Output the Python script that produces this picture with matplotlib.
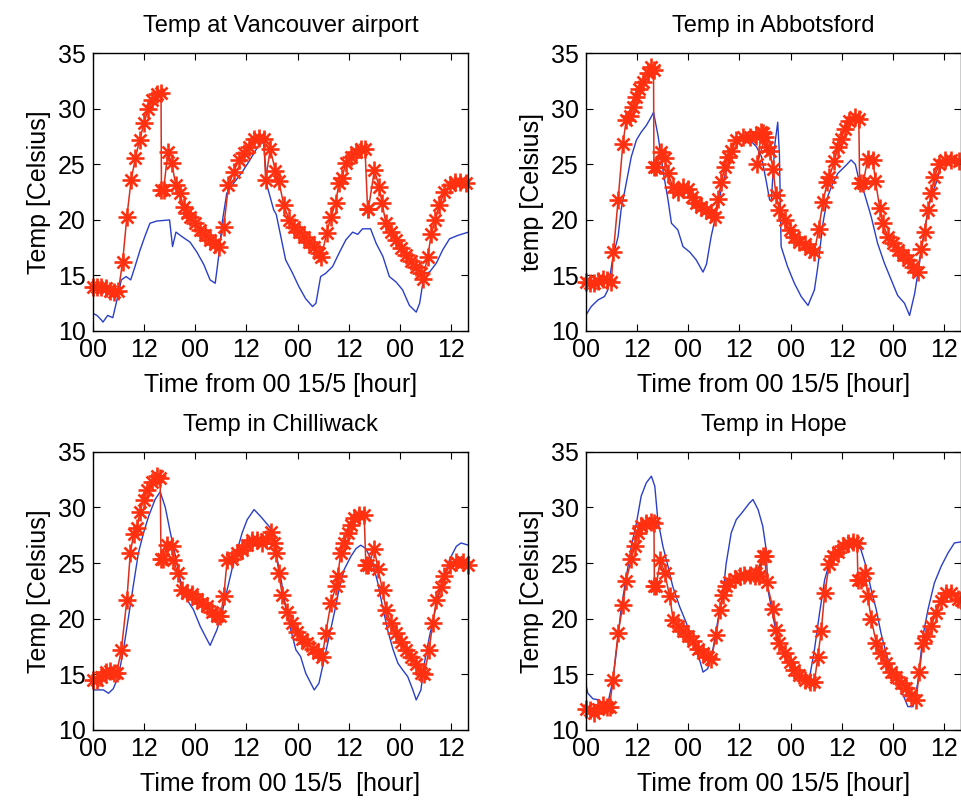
import matplotlib
matplotlib.use('Agg')
import matplotlib.pyplot as plt

plt.rcParams['font.family'] = ['Liberation Sans', 'DejaVu Sans']

# timmar fran 00 15/5, observerad (blå) och prognos (röd)
van_obs_h = [0, 1, 2, 2.4, 3.5, 4.7, 5.5, 6.7, 7.8, 8.9, 9.9, 11.1, 12.2, 13.4, 15, 18, 18.7, 19.5, 20.9, 22.8,
             24.4, 26, 27.5, 28.7, 29.5, 30.3, 31.4, 33, 35, 37, 39, 40, 40.9, 42.4, 43, 45.2, 46.7, 48.3, 49.9,
             51.5, 52.3, 53.4, 54.6, 56.2, 57.7, 59.3, 60.9, 62.1, 63.2, 65.1, 66.4, 68, 69.5, 71.1, 72.6, 74.2,
             75.8, 76.6, 77.7, 78.9, 80.5, 82, 83.6, 85.5, 88]
van_obs_t = [11.6, 11.4, 11.0, 10.8, 11.4, 11.2, 12.5, 14.6, 14.9, 14.6, 15.8, 17.3, 18.5, 19.7, 19.9, 20.0, 17.6,
             18.9, 18.5, 18.0, 17.1, 16.0, 14.6, 14.3, 16.7, 19.7, 22.4, 23.3, 24.3, 25.5, 26.8, 27.0, 23.0, 20.9,
             20.5, 16.4, 15.3, 14.0, 12.9, 12.2, 12.5, 14.9, 15.2, 15.8, 17.0, 18.2, 18.9, 18.7, 19.2, 19.2, 17.9,
             16.7, 14.9, 14.4, 13.7, 12.3, 11.7, 12.5, 15.2, 15.3, 16.1, 17.3, 18.3, 18.6, 18.9]
van_fc_h = [0, 1, 2, 3, 4, 5, 6, 7, 8, 9, 10, 11, 12, 13, 14, 15, 16, 16.1, 16.6, 17.6, 18.5, 19.5, 20.4, 21.3, 22,
            22.8, 24, 25.2, 26.4, 27.5, 28.7, 29.5, 30.7, 31.8, 33, 34.2, 35.4, 36.5, 37.7, 38.9, 40.1, 40.5, 41.6,
            42.8, 43.6, 44.8, 46, 47.1, 48.3, 49.5, 50.7, 51.8, 53, 53.6, 54.8, 55.8, 56.9, 57.7, 58.4, 59.3, 60.5,
            61.6, 62.8, 63.8, 64.4, 64.6, 66, 67.1, 67.8, 68.7, 69.9, 71.1, 72.3, 73.4, 74.6, 75.8, 77, 77.3, 78.5,
            79.3, 80.3, 81.2, 82.4, 83.6, 84.8, 86, 87.5]
van_fc_t = [14.0, 14.0, 14.0, 13.9, 13.6, 13.5, 13.6, 16.2, 20.3, 23.6, 25.6, 27.2, 28.7, 30.0, 30.8, 31.3, 31.4,
            22.7, 22.7, 26.1, 25.1, 23.1, 22.4, 21.2, 20.6, 20.3, 19.7, 19.1, 18.6, 18.2, 17.8, 17.6, 19.4, 23.1,
            24.3, 25.4, 26.0, 26.6, 27.3, 27.4, 27.3, 23.6, 26.4, 24.4, 23.5, 21.3, 20.0, 19.4, 18.9, 18.5, 18.0,
            17.6, 17.0, 16.7, 18.8, 20.3, 21.5, 23.3, 23.8, 25.1, 25.7, 26.1, 26.4, 26.4, 21.0, 21.0, 24.5, 23.0,
            21.5, 19.7, 18.9, 18.2, 17.5, 16.8, 16.3, 15.8, 15.2, 14.7, 16.7, 18.7, 20.0, 21.3, 22.5, 23.1, 23.4,
            23.4, 23.3]

abb_obs_h = [0, 1.3, 2.9, 4.4, 5.2, 6.4, 7.6, 8.3, 9.5, 10.7, 11.9, 13, 14.2, 15.4, 15.9, 17, 18.1, 19.3, 20.1,
             21.6, 22.8, 24.4, 25.9, 27.5, 28.3, 29.4, 30.6, 32.1, 33.7, 36.1, 37.7, 40, 41.2, 42.4, 43.1, 43.5,
             44.3, 45, 45.4, 45.8, 47.3, 48.9, 50.5, 52.1, 53.6, 54.4, 55.6, 56.7, 57.9, 59.1, 60.7, 62.2, 63.2,
             64.2, 65.3, 66.9, 68.4, 70, 71.6, 73.1, 74.7, 75.9, 77.1, 78.2, 79.4, 80.9, 82.1, 83.3, 84.9, 88]
abb_obs_t = [11.4, 12.2, 12.8, 13.1, 13.7, 16.7, 18.5, 20.9, 23.3, 25.7, 27.2, 27.9, 28.5, 29.3, 29.7, 27.5, 24.5,
             21.8, 19.7, 19.1, 17.6, 17.1, 16.4, 15.3, 16.0, 18.5, 20.6, 23.3, 25.4, 27.2, 27.5, 26.6, 25.7, 23.3,
             21.8, 21.7, 26.7, 28.8, 25.9, 17.6, 15.8, 14.3, 13.1, 12.3, 13.7, 15.8, 19.7, 22.1, 23.3, 24.2, 24.8,
             25.4, 25.0, 23.3, 22.4, 20.3, 17.9, 16.1, 14.6, 13.2, 12.5, 11.4, 13.4, 16.1, 19.1, 22.1, 23.3, 24.8,
             25.2, 25.2]
abb_fc_h = [0, 1, 2, 3, 4, 5, 6, 6.5, 7.6, 8.7, 9.5, 10.3, 11.1, 11.9, 12.6, 13.4, 14.6, 15.4, 15.9, 16.0, 16.5,
            17.7, 18.5, 19.3, 20.4, 21.6, 22.8, 24, 24.8, 25.9, 27.1, 28.2, 29.4, 30.2, 31, 31.8, 32.6, 33.3, 34.1,
            35.3, 36.8, 38.4, 40, 41.5, 42, 40.2, 41.2, 42.4, 43.1, 43.9, 44.6, 45.4, 46.6, 47.8, 48.9, 50.1, 51.3,
            52.5, 53.6, 54.6, 55.6, 56.6, 57.1, 58.3, 59.1, 59.9, 60.7, 61.8, 63, 64, 64.2, 65, 66.1, 67.3, 67.9,
            68.9, 69.6, 70.8, 72, 73.2, 74.3, 75.5, 76.7, 77.8, 78.6, 79.4, 80.2, 81, 81.7, 82.9, 84.1, 85.6, 87.4]
abb_fc_t = [14.4, 14.3, 14.3, 14.5, 14.7, 14.6, 14.4, 17.1, 21.8, 26.8, 29.0, 29.4, 30.2, 31.1, 31.8, 32.4, 33.2,
            33.8, 33.5, 24.8, 24.8, 26.1, 25.6, 24.2, 23.0, 22.5, 23.0, 22.8, 22.1, 21.5, 21.2, 20.9, 20.6, 20.3,
            21.9, 23.4, 24.8, 25.7, 26.2, 27.2, 27.5, 27.5, 27.6, 27.8, 27.5, 25.0, 27.9, 26.6, 26.2, 24.6, 22.2,
            20.9, 20.0, 19.1, 18.5, 18.0, 17.8, 17.4, 17.1, 19.2, 21.6, 23.4, 23.9, 25.3, 26.6, 27.3, 28.2, 28.9,
            29.3, 29.1, 23.3, 23.3, 25.5, 25.4, 23.5, 21.1, 19.7, 18.5, 17.9, 17.3, 16.8, 16.4, 15.8, 15.3, 17.4,
            18.9, 20.9, 22.4, 23.9, 25.0, 25.4, 25.4, 25.3]

chi_obs_h = [0, 2.5, 3.7, 4.8, 6, 7.2, 8.4, 9.6, 10.7, 11.9, 13.1, 14.6, 15.8, 17, 18.2, 19.4, 20.5, 22.1, 23.6,
             25.2, 26.4, 27.5, 29.1, 30.3, 31.5, 32.6, 33.9, 35, 36.2, 37.8, 39.3, 41.3, 42.5, 42.9, 44, 45.2, 46.4,
             47.6, 48.7, 49.9, 51.1, 51.9, 53, 54.2, 55.4, 56.6, 57.7, 58.9, 60.5, 61.7, 62.8, 64, 65.6, 66.8, 67.9,
             69.1, 70.3, 71.5, 72.6, 73.8, 75, 75.8, 76.9, 77.7, 78.9, 80.1, 81.2, 82.4, 83.6, 85.2, 86.3, 88]
chi_obs_t = [13.6, 13.6, 13.3, 13.7, 14.8, 17.2, 20.2, 23.2, 25.9, 27.7, 29.2, 30.7, 31.4, 30.0, 27.7, 25.6, 23.5,
             21.7, 20.8, 19.3, 18.4, 17.6, 19.0, 20.5, 22.6, 24.4, 26.2, 27.7, 28.9, 29.8, 29.2, 28.3, 27.7, 26.0,
             23.8, 21.1, 19.0, 17.2, 16.6, 15.1, 14.2, 13.6, 14.2, 16.3, 18.4, 20.5, 22.6, 24.4, 25.6, 26.3, 26.6,
             26.3, 25.0, 23.2, 21.1, 19.0, 17.3, 16.0, 15.4, 14.8, 13.6, 12.7, 13.6, 16.0, 18.4, 20.5, 22.3, 23.8,
             25.3, 26.5, 26.8, 26.6]
chi_fc_h = [0, 1, 2, 3, 4, 5, 5.6, 6.7, 8, 8.8, 9.6, 10.3, 11.1, 11.9, 12.7, 13.9, 15, 15.8, 16.0, 16.5, 17.5,
            18.5, 18.9, 19.9, 20.9, 22.1, 23.3, 24.4, 25.6, 26.8, 28, 29.1, 29.9, 30.7, 31.5, 32.6, 33.9, 35, 36.2,
            37.4, 38.5, 39.7, 40.5, 41.7, 42.5, 43, 43.6, 44.4, 45.6, 46.8, 47.9, 49.1, 50.3, 51.5, 52.7, 53.8,
            54.6, 55.8, 57, 57.4, 58.1, 58.9, 59.7, 60.5, 61.3, 62.5, 63.6, 64.0, 64.6, 66, 66.8, 67.9, 68.7, 69.9,
            71.1, 72.2, 73.4, 74.6, 75.8, 76.9, 77.7, 78.8, 79.7, 80.5, 81.7, 82.4, 83.6, 85.2, 86.7, 88]
chi_fc_t = [14.5, 14.5, 14.8, 15.2, 15.3, 15.1, 15.1, 17.2, 21.7, 25.9, 27.6, 28.1, 29.6, 30.7, 31.6, 32.3, 32.8,
            32.6, 25.4, 25.4, 26.6, 26.5, 25.3, 24.1, 22.6, 22.3, 22.2, 21.8, 21.4, 21.1, 20.6, 20.2, 20.2, 22.0,
            25.3, 25.4, 25.9, 26.2, 26.6, 27.1, 27.1, 26.8, 27.2, 27.8, 26.8, 25.9, 24.1, 22.1, 20.6, 19.6, 18.8,
            18.2, 17.8, 17.3, 16.9, 16.6, 18.7, 21.4, 22.9, 23.8, 25.9, 26.8, 27.7, 28.4, 29.0, 29.3, 29.3, 24.8,
            24.8, 26.3, 24.5, 22.6, 20.8, 19.6, 18.7, 17.9, 17.2, 16.6, 15.9, 15.1, 15.0, 17.2, 19.6, 21.7, 22.8,
            23.8, 24.8, 25.1, 25.1, 24.8]

hop_obs_h = [0, 0.5, 1.7, 3.2, 4.4, 5.2, 6.4, 7.6, 8.3, 9.5, 10.7, 11.9, 13, 14.2, 15.4, 16.2, 16.9, 18.1, 19.3,
             20.4, 22, 23.6, 25.1, 26.7, 27.5, 28.6, 29.8, 31, 32.2, 32.9, 34.1, 35.3, 36.8, 38.4, 39.2, 40.4, 41.5,
             42.3, 42.7, 43.9, 45, 46.2, 47.4, 48.9, 50.5, 52, 52.5, 53.6, 54.8, 56, 57.1, 58.3, 59.9, 61.4, 63,
             64.5, 65.7, 66.9, 68.1, 69.2, 70.4, 71.6, 72.7, 73.9, 75.5, 76.7, 77.8, 79, 80.2, 81.7, 83.3, 84.9,
             86.4, 88]
hop_obs_t = [14.2, 13.3, 12.8, 12.7, 12.1, 12.4, 14.5, 18.4, 20.9, 23.7, 26.5, 28.6, 31.0, 32.2, 32.8, 31.9, 28.9,
             26.5, 24.7, 22.9, 21.1, 19.6, 17.8, 16.3, 15.2, 15.5, 17.2, 19.9, 22.3, 24.9, 27.7, 28.9, 29.6, 30.4,
             30.7, 29.8, 28.3, 26.2, 22.6, 20.2, 18.1, 16.9, 16.0, 15.3, 14.6, 14.5, 14.8, 17.2, 20.5, 23.5, 25.0,
             25.9, 26.5, 26.6, 26.9, 26.2, 24.7, 22.6, 20.8, 18.7, 16.9, 15.4, 14.5, 13.6, 12.1, 12.1, 14.2, 18.4,
             20.8, 23.2, 24.7, 25.9, 26.8, 26.9]
hop_fc_h = [0, 1, 2, 3, 4, 5, 5.6, 6.4, 7.6, 8.7, 9.5, 10.7, 11.5, 12.2, 13, 14.2, 15.4, 16, 16.1, 16.5, 17.5, 18.5,
            19.7, 20.5, 21.6, 22.8, 24, 25.2, 26.3, 27.5, 28.6, 29.4, 30.6, 31.4, 32.2, 32.9, 33.7, 34.9, 36.1,
            37.2, 38.4, 39.6, 40.7, 41.5, 40.0, 42, 42.4, 43.9, 44.7, 45.4, 46.6, 47.8, 48.9, 50.1, 51.3, 52.5,
            53.6, 54.4, 55.2, 56, 57.1, 57.9, 59.1, 60.3, 61.4, 62.6, 63.6, 63.8, 64.5, 65.5, 66.1, 66.9, 68.1,
            69.2, 70.4, 71.6, 72.8, 73.9, 75.1, 76.3, 77.4, 78.2, 79, 79.8, 80.9, 82.1, 83.3, 84.4, 85.6, 87.2, 88]
hop_fc_t = [11.9, 11.8, 11.5, 11.9, 12.2, 12.1, 12.1, 14.5, 18.7, 21.2, 23.4, 25.4, 26.5, 27.7, 28.3, 28.6, 28.7,
            28.6, 22.9, 22.9, 25.3, 24.1, 22.0, 19.9, 19.3, 18.9, 18.4, 18.0, 17.3, 16.9, 16.6, 16.4, 18.5, 20.8,
            22.1, 22.9, 23.3, 23.6, 23.8, 23.9, 23.9, 23.8, 23.8, 25.6, 24.1, 25.6, 23.3, 20.9, 19.0, 17.8, 16.9,
            16.1, 15.4, 14.9, 14.5, 14.3, 14.3, 16.6, 18.9, 22.3, 24.9, 25.6, 26.0, 26.5, 26.8, 26.9, 26.8, 23.5,
            23.5, 24.1, 22.0, 20.0, 17.8, 16.9, 16.0, 15.2, 14.8, 14.2, 13.8, 13.1, 12.7, 15.2, 17.8, 18.4, 19.3,
            20.5, 21.6, 22.3, 22.3, 21.8, 21.7]

tick_hours = [0, 12, 24, 36, 48, 60, 72, 84]
tick_labels = ['00', '12', '00', '12', '00', '12', '00', '12']
temp_ticks = [10, 15, 20, 25, 30, 35]

paneler = [
    ('Temp at Vancouver airport', 'Temp [Celsius]', 'Time from 00 15/5 [hour]',
     van_obs_h, van_obs_t, van_fc_h, van_fc_t, [0.0964, 0.5873, 0.3904, 0.3462]),
    ('Temp in Abbotsford', 'temp [Celsius]', 'Time from 00 15/5 [hour]',
     abb_obs_h, abb_obs_t, abb_fc_h, abb_fc_t, [0.6088, 0.5873, 0.3904, 0.3462]),
    ('Temp in Chilliwack', 'Temp [Celsius]', 'Time from 00 15/5  [hour]',
     chi_obs_h, chi_obs_t, chi_fc_h, chi_fc_t, [0.0964, 0.0898, 0.3904, 0.347]),
    ('Temp in Hope', 'Temp [Celsius]', 'Time from 00 15/5 [hour]',
     hop_obs_h, hop_obs_t, hop_fc_h, hop_fc_t, [0.6088, 0.0898, 0.3904, 0.347]),
]

fig = plt.figure(figsize=(9.62, 8.02), dpi=100)

for titel, ylab, xlab, oh, ot, fh, ft, pos in paneler:
    ax = fig.add_axes(pos)
    ax.plot(oh, ot, color='#2a3fc8', lw=1.0)
    # prognosen ritas med '+' och 'x' ovanpå varandra (asterisk)
    ax.plot(fh, ft, color='#d8301c', lw=1.1, marker='+', ms=12.5, mew=1.9, mec='#ff3010', clip_on=False)
    ax.plot(fh, ft, ls='none', marker='x', ms=8, mew=1.9, mec='#ff3010', clip_on=False)
    ax.set_xlim(0, 88)
    ax.set_ylim(10, 35)
    ax.set_xticks(tick_hours)
    ax.set_xticklabels(tick_labels)
    ax.set_yticks(temp_ticks)
    ax.tick_params(direction='in', top=True, right=True, length=5, width=0.8, labelsize=18, pad=5)
    for s in ax.spines.values():
        s.set_linewidth(1.0)
    ax.set_title(titel, fontsize=17, pad=15)
    ax.set_ylabel(ylab, fontsize=18, labelpad=5)
    ax.set_xlabel(xlab, fontsize=18, labelpad=8)

fig.savefig('out.png', dpi=100)
